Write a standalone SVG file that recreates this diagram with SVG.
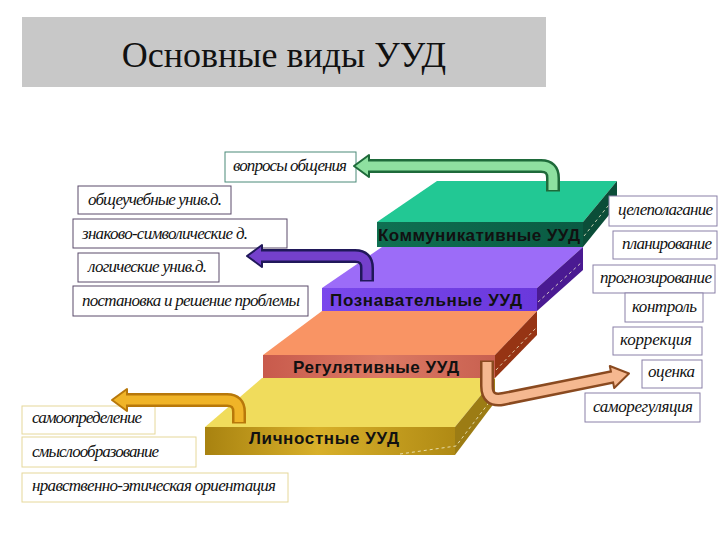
<svg xmlns="http://www.w3.org/2000/svg" width="720" height="540" viewBox="0 0 720 540">
<defs>
<linearGradient id="gFront" x1="0" y1="0" x2="1" y2="0"><stop offset="0" stop-color="#0f7052"/><stop offset="1" stop-color="#0a5a42"/></linearGradient>
<linearGradient id="pFront" x1="0" y1="0" x2="1" y2="0"><stop offset="0" stop-color="#7a48ec"/><stop offset="1" stop-color="#6a38dc"/></linearGradient>
<linearGradient id="oFront" x1="0" y1="0" x2="1" y2="0"><stop offset="0" stop-color="#c85a4c"/><stop offset="0.5" stop-color="#dc7a64"/><stop offset="1" stop-color="#c86050"/></linearGradient>
<linearGradient id="yFront" x1="0" y1="0" x2="1" y2="0"><stop offset="0" stop-color="#a88210"/><stop offset="0.45" stop-color="#d8b02a"/><stop offset="1" stop-color="#b08a14"/></linearGradient>
</defs>
<style>
.title{font-family:"Liberation Serif","Times New Roman",serif;font-size:36px;fill:#111}
.lbl{font-family:"Liberation Sans",Arial,sans-serif;font-weight:bold;font-size:17px;fill:#111}
.bt{font-family:"Liberation Serif","Times New Roman",serif;font-style:italic;font-size:17px;fill:#111;text-anchor:start}
.bl{fill:#fff;stroke:#5a4a6a;stroke-width:1}
.br{fill:#fff;stroke:#8a80a8;stroke-width:1}
.by{fill:#fff;stroke:#e6d89a;stroke-width:1}
.dash{fill:none;stroke:#f4f0d0;stroke-width:1;stroke-dasharray:3 3;opacity:0.8}
</style>
<rect width="720" height="540" fill="#fff"/>
<g id="title">
<rect x="22" y="17" width="524" height="70" fill="#c8c8c8"/>
<text class="title" x="284" y="67" text-anchor="middle">Основные виды УУД</text>
</g>
<g id="step-communicative">
<polygon points="377,222 437,181 617,181 583,222" fill="#22c894"/>
<rect x="377" y="222" width="206" height="25" fill="url(#gFront)"/>
<polygon points="583,222 617,181 617,205 583,247" fill="#0b4d38"/>
<path class="dash" d="M584,236 L616,196"/>
<text class="lbl" x="378" y="241" textLength="202">Коммуникативные УУД</text>
</g>
<g id="step-cognitive">
<polygon points="322,288 382,247 583,247 537,288" fill="#9c6cf8"/>
<rect x="322" y="288" width="215" height="23" fill="url(#pFront)"/>
<polygon points="537,288 583,247 583,270 537,311" fill="#4a1a92"/>
<path class="dash" d="M538,302 L582,262"/>
<text class="lbl" x="330" y="306" textLength="192">Познавательные УУД</text>
</g>
<g id="step-regulative">
<polygon points="263,355 322,311 537,311 495,355" fill="#f99464"/>
<rect x="263" y="355" width="232" height="23" fill="url(#oFront)"/>
<polygon points="495,355 537,311 537,335 495,378" fill="#963414"/>
<path class="dash" d="M496,370 L536,328"/>
<text class="lbl" x="293" y="373" textLength="166">Регулятивные УУД</text>
</g>
<g id="step-personal">
<polygon points="205,427 262,378 495,378 455,427" fill="#f0dc5c"/>
<rect x="205" y="427" width="250" height="28" fill="url(#yFront)"/>
<polygon points="455,427 495,378 495,402 455,455" fill="#9c7c14"/>
<path class="dash" d="M400,454 L456,446 L494,396"/>
<text class="lbl" x="249" y="444" textLength="150">Личностные УУД</text>
</g>
<g id="box-voprosy"><rect x="225" y="152" width="131" height="30" fill="#fff" stroke="#4a8a78"/><text class="bt" x="233" y="171" textLength="114">вопросы общения</text></g>
<g id="box-obscheuch"><rect class="bl" x="78" y="186" width="153" height="28"/><text class="bt" x="88" y="205" textLength="134">общеучебные унив.д.</text></g>
<g id="box-znakovo"><rect class="bl" x="73" y="219" width="214" height="29"/><text class="bt" x="82" y="239" textLength="166">знаково-символические д.</text></g>
<g id="box-logich"><rect class="bl" x="78" y="253" width="141" height="29"/><text class="bt" x="88" y="272" textLength="119">логические унив.д.</text></g>
<g id="box-postanovka"><rect class="bl" x="73" y="286" width="235" height="30"/><text class="bt" x="82" y="306" textLength="218">постановка и решение проблемы</text></g>
<g id="box-celepol"><rect class="br" x="609" y="196" width="108" height="30"/><text class="bt" x="618" y="215" textLength="95">целеполагание</text></g>
<g id="box-planir"><rect class="br" x="613" y="231" width="104" height="28"/><text class="bt" x="622" y="249" textLength="90">планирование</text></g>
<g id="box-prognoz"><rect class="br" x="593" y="265" width="122" height="28"/><text class="bt" x="600" y="283" textLength="112">прогнозирование</text></g>
<g id="box-kontrol"><rect class="br" x="625" y="293" width="78" height="29"/><text class="bt" x="632" y="312" textLength="65">контроль</text></g>
<g id="box-korrekc"><rect class="br" x="613" y="327" width="89" height="28"/><text class="bt" x="620" y="345" textLength="72">коррекция</text></g>
<g id="box-ocenka"><rect class="br" x="642" y="360" width="60" height="28"/><text class="bt" x="648" y="377" textLength="47">оценка</text></g>
<g id="box-samoreg"><rect class="br" x="585" y="393" width="115" height="29"/><text class="bt" x="593" y="412" textLength="100">саморегуляция</text></g>
<g id="box-samoopr"><rect class="by" x="22" y="406" width="133" height="28"/><text class="bt" x="32" y="423" textLength="110">самоопределение</text></g>
<g id="box-smysl"><rect class="by" x="22" y="437" width="174" height="30"/><text class="bt" x="32" y="457" textLength="127">смыслообразование</text></g>
<g id="box-nravst"><rect class="by" x="22" y="473" width="266" height="29"/><text class="bt" x="32" y="491" textLength="244">нравственно-этическая ориентация</text></g>
<g id="connectors" fill="none">
<polygon points="354,166 369,155 369,177" fill="#8ee0a0" stroke="#1e6a3a" stroke-width="2" stroke-linejoin="round"/>
<path d="M553,191.5 V178 Q553,166 541,166 H369" stroke="#1e6a3a" stroke-width="14"/>
<path d="M553,190 V178 Q553,166 541,166 H366" stroke="#8ee0a0" stroke-width="9"/>
<polygon points="247,256 262,245 262,267" fill="#7440cc" stroke="#20185a" stroke-width="2" stroke-linejoin="round"/>
<path d="M367,281.5 V268 Q367,256 355,256 H262" stroke="#20185a" stroke-width="14"/>
<path d="M367,280 V268 Q367,256 355,256 H259" stroke="#7440cc" stroke-width="9"/>
<polygon points="629,373.5 614.2,388 609.8,366" fill="#f5b890" stroke="#8a4a20" stroke-width="2" stroke-linejoin="round"/>
<path d="M487,360.5 V386 Q487,402 503,399 L612,377" stroke="#8a4a20" stroke-width="14"/>
<path d="M487,362 V386 Q487,402 503,399 L614,376.6" stroke="#f5b890" stroke-width="9"/>
<polygon points="112,400 127,389 127,411" fill="#f0b428" stroke="#b8780a" stroke-width="2" stroke-linejoin="round"/>
<path d="M239,423.5 V412 Q239,400 227,400 H127" stroke="#b8780a" stroke-width="14"/>
<path d="M239,422 V412 Q239,400 227,400 H124" stroke="#f0b428" stroke-width="9"/>
</g>
</svg>
